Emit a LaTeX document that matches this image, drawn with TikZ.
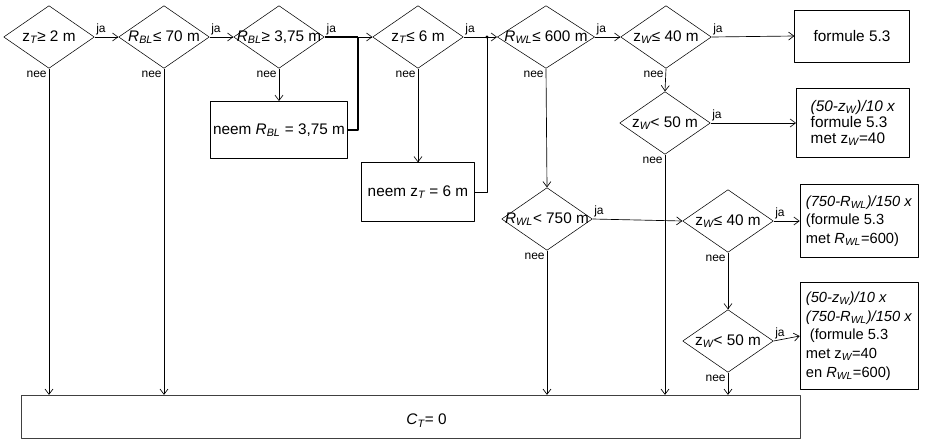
\documentclass[tikz,border=0pt]{standalone}
\usepackage{fontspec}
\setmainfont{Liberation Sans}
\usepackage{tikz}
\usetikzlibrary{arrows.meta,shapes.geometric}
\newcommand\subi[1]{\textsubscript{\itshape #1}}

\begin{document}
\begin{tikzpicture}[x=0.75pt,y=-0.75pt,>={Straight Barb[length=4pt,width=6pt]},line join=round,
  font=\fontsize{11.5}{13}\selectfont,
  dec/.style={diamond,draw,minimum width=68pt,minimum height=47pt,inner sep=0pt},
  box/.style={draw,inner sep=2pt},
  res/.style={box,align=left,inner xsep=1pt,font=\fontsize{11.5}{13.5}\selectfont},
  ja/.style={pos=0,above right,inner sep=1pt,font=\fontsize{9}{10}\selectfont},
  nee/.style={pos=0,below left,inner sep=1.5pt,font=\fontsize{9}{10}\selectfont},
  flow/.style={->,line width=0.5pt}]
  \useasboundingbox (0,0) rectangle (940,443);
  % beslissingen
  \node[dec,label=center:{z\subi{T}≥ 2 m}] (d1) at (49,37) {};
  \node[dec,label=center:{\textit{R}\subi{BL}≤ 70 m}] (d2) at (164,37) {};
  \node[dec,label=center:{\textit{R}\subi{BL}≥ 3,75 m}] (d3) at (279,37) {};
  \node[dec,label=center:{z\subi{T}≤ 6 m}] (d4) at (418,37) {};
  \node[dec,minimum width=73pt,label=center:{\textit{R}\subi{WL}≤ 600 m}] (d5) at (546,37) {};
  \node[dec,label=center:{z\subi{W}≤ 40 m}] (d6) at (666,37) {};
  \node[dec,label=center:{z\subi{W}< 50 m}] (d8) at (665,123) {};
  \node[dec,label=center:{\textit{R}\subi{WL}< 750 m}] (d7) at (547,219) {};
  \node[dec,label=center:{z\subi{W}≤ 40 m}] (d9) at (728,221) {};
  \node[dec,label=center:{z\subi{W}< 50 m}] (d10) at (728,341) {};
  % uitkomsten
  \node[box,minimum width=102pt,minimum height=43pt] (bRBL) at (279,130) {neem \textit{R}\subi{BL} = 3,75 m};
  \node[box,minimum width=85pt,minimum height=44pt] (bzT) at (418,192) {neem z\subi{T} = 6 m};
  \node[res,minimum width=86pt,minimum height=39pt] (bF1) at (852,36) {formule 5.3};
  \node[res,minimum width=85pt,minimum height=52pt,font=\fontsize{11.5}{12}\selectfont] (bF2) at (853,123)
    {\textit{(50-z\subi{W})/10 x}\\formule 5.3\\met z\subi{W}=40};
  \node[res,minimum width=88.5pt,minimum height=55pt,font=\fontsize{11}{14}\selectfont] (bF3) at (859,221)
    {\textit{(750-R\subi{WL})/150 x}\\(formule 5.3\\met \textit{R}\subi{WL}=600)};
  \node[res,minimum width=88.5pt,minimum height=80pt,font=\fontsize{11}{14}\selectfont] (bF4) at (859,336)
    {\textit{(50-z\subi{W})/10 x}\\\textit{(750-R\subi{WL})/150 x}\\\ (formule 5.3\\met z\subi{W}=40\\en \textit{R}\subi{WL}=600)};
  \node[box,draw=black!75,minimum width=584pt,minimum height=32pt,
    label={[xshift=12pt,yshift=-3pt]center:\textit{C}\subi{T}= 0}] (bCT) at (410.5,416.5) {};
  % knooppunten
  \coordinate (j1) at (358,37);
  \coordinate (j2) at (487,37);
  % ja
  \draw[flow] (d1.east) -- node[ja]{ja} (d2.west);
  \draw[flow] (d2.east) -- node[ja]{ja} (d3.west);
  \draw[line width=1.1pt] (d3.east) -- node[ja]{ja} (j1);
  \draw[line width=1.1pt] (bRBL.east) -| (j1);
  \draw[flow] (j1) -- (d4.west);
  \draw[line width=0.7pt] (d4.east) -- node[ja]{ja} (j2);
  \draw[line width=0.7pt] (bzT.east) -| (j2);
  \draw[flow] (j2) -- (d5.west);
  \fill (j2) circle (1.2pt);
  \draw[flow] (d5.east) -- node[ja]{ja} (d6.west);
  \draw[flow] (d6.east) -- node[ja]{ja} (bF1.west);
  \draw[flow] (d8.east) -- node[ja]{ja} (bF2.west);
  \draw[flow] (d7.east) -- node[ja]{ja} (d9.west);
  \draw[flow] (d9.east) -- node[ja]{ja} (bF3.west);
  \draw[flow] (d10.east) -- node[ja]{ja} (bF4.west);
  % nee
  \draw[flow] (d3.south) -- node[nee]{nee} (bRBL.north);
  \draw[flow] (d4.south) -- node[nee]{nee} (bzT.north);
  \draw[flow] (d5.south) -- node[nee]{nee} (d7.north);
  \draw[flow] (d6.south) -- node[nee]{nee} (d8.north);
  \draw[flow] (d9.south) -- node[nee]{nee} (d10.north);
  \draw[flow] (d1.south) -- node[nee]{nee} (d1.south |- bCT.north);
  \draw[flow] (d2.south) -- node[nee]{nee} (d2.south |- bCT.north);
  \draw[flow] (d7.south) -- node[nee]{nee} (d7.south |- bCT.north);
  \draw[flow] (d8.south) -- node[nee]{nee} (d8.south |- bCT.north);
  \draw[flow] (d10.south) -- node[nee]{nee} (d10.south |- bCT.north);
\end{tikzpicture}
\end{document}
